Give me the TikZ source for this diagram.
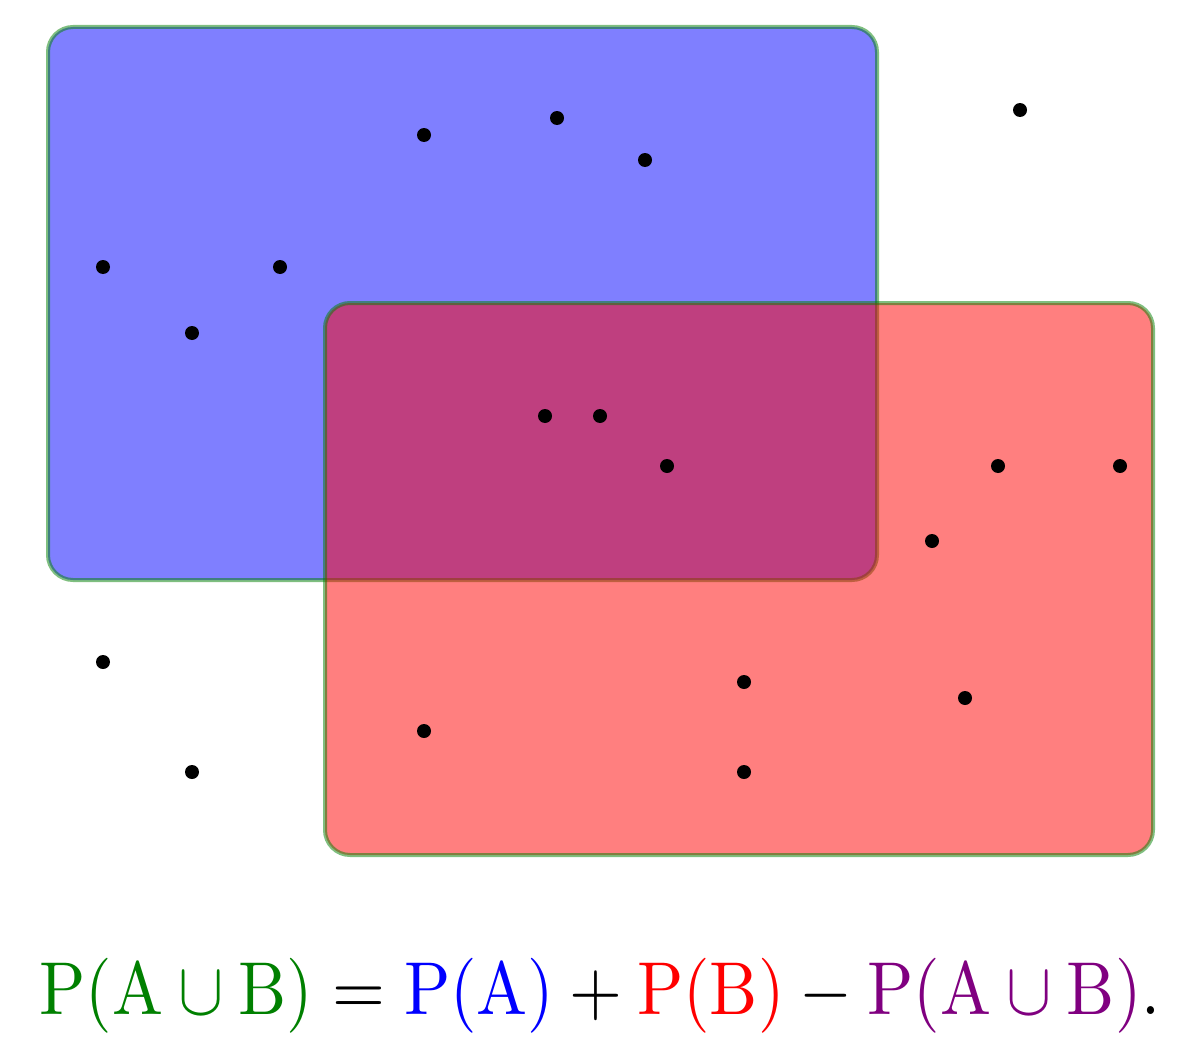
\documentclass[tikz,border=0pt]{standalone}
\usepackage{graphicx}
\definecolor{setpurple}{RGB}{128,0,128}
\definecolor{setgreen}{RGB}{0,128,0}
\begin{document}
\begin{tikzpicture}[x=1pt,y=-1pt,
  setbox/.style={rounded corners=25pt,line width=4pt,draw=setgreen,draw opacity=0.5,fill opacity=0.5},
  pt/.style={circle,fill=black,inner sep=0pt,minimum size=14pt}]
\useasboundingbox (0,0) rectangle (1200,1057);
\fill[white] (0,0) rectangle (1200,1057);
\path[setbox,fill=blue] (48,27) rectangle (877,580);
\path[setbox,fill=red] (325,303) rectangle (1153,855);
\foreach \n/\x/\y in {p1/1020/110,p2/424/135,p3/557/118,p4/645/160,p5/103/267,p6/280/267,p7/192/333,p8/545/416,p9/600/416,p10/667/466,p11/998/466,p12/1120/466,p13/932/541,p14/103/662,p15/744/682,p16/965/698,p17/424/731,p18/192/772,p19/744/772}
  \node[pt] (\n) at (\x,\y) {};
\node[inner sep=0pt] (formula) at (600,995.5) {\resizebox*{1120pt}{75pt}{$\color{setgreen}\mathrm{P}(\mathrm{A}\cup\mathrm{B})\color{black}=\color{blue}\mathrm{P}(\mathrm{A})\color{black}+\color{red}\mathrm{P}(\mathrm{B})\color{black}-\color{setpurple}\mathrm{P}(\mathrm{A}\cup\mathrm{B})\color{black}.$}};
\end{tikzpicture}
\end{document}
